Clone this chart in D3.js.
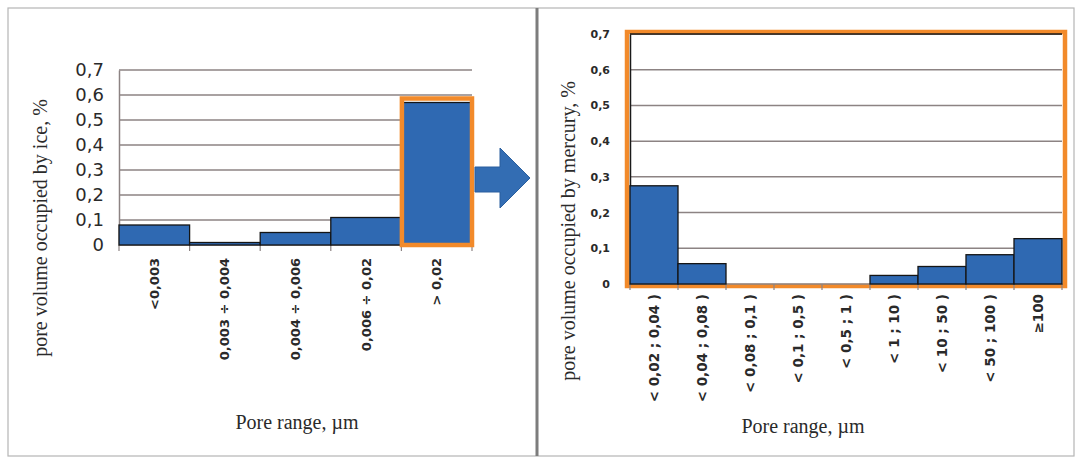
<!DOCTYPE html>
<html>
<head>
<meta charset="utf-8">
<script src="https://cdn.jsdelivr.net/npm/d3@7"></script>
<style>
  html, body { margin: 0; padding: 0; background: #fff; }
  svg { display: block; }
</style>
</head>
<body>
<svg id="chart" width="1082" height="460"></svg>
<script>
// ---- data ----
const yTicks = [0, 0.1, 0.2, 0.3, 0.4, 0.5, 0.6, 0.7];
const yTickLabels = ["0", "0,1", "0,2", "0,3", "0,4", "0,5", "0,6", "0,7"];

const iceCategories = ["<0,003", "0,003 ÷ 0,004", "0,004 ÷ 0,006", "0,006 ÷ 0,02", "> 0,02"];
const iceValues = [0.08, 0.01, 0.05, 0.11, 0.57];
const iceHighlight = ["> 0,02"];

const mercuryCategories = ["< 0,02 ; 0,04 )", "< 0,04 ; 0,08 )", "< 0,08 ; 0,1 )", "< 0,1 ; 0,5 )",
  "< 0,5 ; 1 )", "< 1 ; 10 )", "< 10 ; 50 )", "< 50 ; 100 )", "≥100"];
const mercuryValues = [0.275, 0.057, 0, 0, 0, 0.024, 0.049, 0.082, 0.127];

const yTitleIce = "pore volume occupied by ice, %";
const yTitleMercury = "pore volume occupied by mercury, %";
const xTitle = "Pore range, µm";

// ---- styles ----
const BAR = "#2f69b2", GRID = "#8c8383", ORANGE = "#f28a2a", TXT = "#2a2a2a";
const svg = d3.select("#chart");

// frame
svg.append("rect").attr("x", 8).attr("y", 8).attr("width", 1066).attr("height", 448)
  .attr("fill", "none").attr("stroke", "#b5b5b5").attr("stroke-width", 1.2);
svg.append("line").attr("x1", 537).attr("x2", 537).attr("y1", 8).attr("y2", 456)
  .attr("stroke", "#7d7d7d").attr("stroke-width", 3);

function panel(cfg) {
  const g = svg.append("g");
  const x = d3.scaleBand().domain(cfg.categories).range([cfg.x0, cfg.x1]).paddingInner(0).paddingOuter(0);
  const y = d3.scaleLinear().domain([0, 0.7]).range([cfg.yb, cfg.yt]);

  // gridlines
  g.append("g").selectAll("line").data(yTicks.slice(1)).join("line")
    .attr("x1", cfg.x0).attr("x2", cfg.x1)
    .attr("y1", d => y(d)).attr("y2", d => y(d))
    .attr("stroke", GRID).attr("stroke-width", 1.5);

  if (cfg.frameAll) {
    g.append("rect").attr("x", cfg.x0 - 3).attr("y", y(0.7) - 2)
      .attr("width", cfg.x1 - cfg.x0 + 6).attr("height", y(0) - y(0.7) + 4)
      .attr("fill", "none").attr("stroke", ORANGE).attr("stroke-width", 4.5);
    g.append("line").attr("x1", cfg.x0).attr("x2", cfg.x1).attr("y1", y(0.7)).attr("y2", y(0.7))
      .attr("stroke", "#1a1a1a").attr("stroke-width", 1.5);
  }

  // y axis (labels)
  const yAxis = d3.axisLeft(y).tickValues(yTicks).tickFormat((d, i) => yTickLabels[i])
    .tickSize(0).tickPadding(cfg.labelPad);
  const ya = g.append("g").attr("transform", `translate(${cfg.x0},0)`).call(yAxis);
  ya.select(".domain").attr("stroke", cfg.frameAll ? "#1a1a1a" : GRID).attr("stroke-width", 1.5);
  ya.selectAll("text").attr("font-family", "DejaVu Sans").attr("font-size", cfg.yFont)
    .attr("font-weight", cfg.yWeight).attr("fill", TXT);

  // x axis with ticks at category boundaries
  const bounds = cfg.categories.map(c => x(c)).concat([cfg.x1]);
  g.append("g").selectAll("line").data(bounds).join("line")
    .attr("x1", d => d).attr("x2", d => d).attr("y1", y(0)).attr("y2", y(0) + 6)
    .attr("stroke", GRID).attr("stroke-width", 1.2);
  g.append("line").attr("x1", cfg.x0).attr("x2", cfg.x1).attr("y1", y(0)).attr("y2", y(0))
    .attr("stroke", GRID).attr("stroke-width", 1.5);

  // bars
  g.append("g").selectAll("rect").data(cfg.values).join("rect")
    .attr("x", (d, i) => x(cfg.categories[i]))
    .attr("width", x.bandwidth())
    .attr("y", d => y(d))
    .attr("height", d => Math.max(0, y(0) - y(d)))
    .attr("fill", BAR).attr("stroke", "#151515").attr("stroke-width", d => d > 0 ? 1.3 : 0);

  // highlight box
  if (cfg.highlight) {
    cfg.highlight.forEach(c => {
      g.append("rect").attr("x", x(c) + 0.5).attr("y", y(0.6) + 3.5)
        .attr("width", x.bandwidth() - 0.5).attr("height", y(0) - y(0.6) - 3.5)
        .attr("fill", "none").attr("stroke", ORANGE).attr("stroke-width", 4.5);
    });
  }
  if (cfg.frameAll) {
    g.append("line").attr("x1", cfg.x0 - 3).attr("x2", cfg.x1 + 3).attr("y1", y(0) + 2).attr("y2", y(0) + 2)
      .attr("stroke", ORANGE).attr("stroke-width", 3).lower();
  }

  // category labels (rotated)
  g.append("g").selectAll("text").data(cfg.categories).join("text")
    .attr("transform", d => `translate(${x(d) + x.bandwidth() / 2},${y(0) + cfg.catOffset}) rotate(-90)`)
    .attr("text-anchor", "end").attr("dy", "0.35em")
    .attr("font-family", "DejaVu Sans").attr("font-weight", "bold").attr("font-size", cfg.catFont)
    .attr("fill", TXT).text(d => d);

  // titles
  g.append("text").attr("transform", `translate(${cfg.yTitleX},${cfg.yTitleY}) rotate(-90)`)
    .attr("text-anchor", "middle").attr("dy", "0.35em")
    .attr("font-family", "Liberation Serif").attr("font-size", 20).attr("fill", TXT).text(cfg.yTitle);
  g.append("text").attr("x", cfg.xTitleX).attr("y", cfg.xTitleY).attr("text-anchor", "middle")
    .attr("font-family", "Liberation Serif").attr("font-size", 20).attr("fill", TXT).text(xTitle);
}

panel({
  categories: iceCategories, values: iceValues, highlight: iceHighlight,
  x0: 119, x1: 472, yb: 245, yt: 70, labelPad: 15, yFont: 18, yWeight: "normal",
  catOffset: 13, catFont: 13, yTitle: yTitleIce, yTitleX: 40, yTitleY: 228,
  xTitleX: 297, xTitleY: 429
});

panel({
  categories: mercuryCategories, values: mercuryValues, frameAll: true,
  x0: 630, x1: 1062, yb: 284, yt: 34, labelPad: 20, yFont: 11, yWeight: "bold",
  catOffset: 10, catFont: 13.5, yTitle: yTitleMercury, yTitleX: 568, yTitleY: 231,
  xTitleX: 803, xTitleY: 433
});

// arrow between panels
svg.append("path")
  .attr("d", "M475,167 L500,167 L500,148 L530,178 L500,208 L500,192 L475,192 Z")
  .attr("fill", "#336db3").attr("stroke", "#2a5f9e").attr("stroke-width", 1);
</script>
</body>
</html>
